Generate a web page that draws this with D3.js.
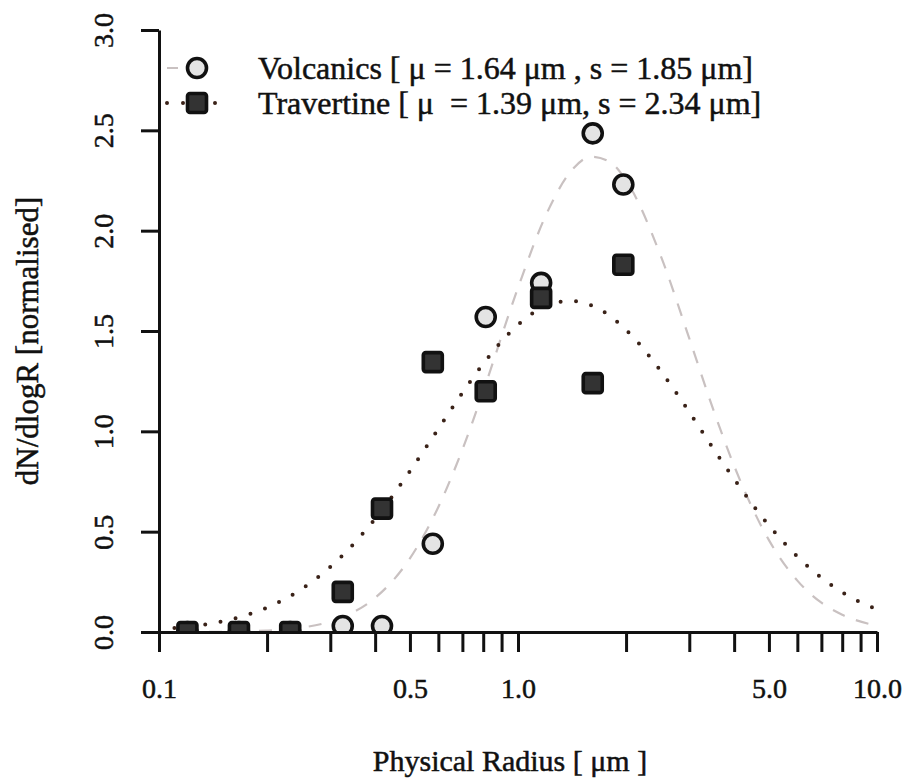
<!DOCTYPE html>
<html>
<head>
<meta charset="utf-8">
<script src="https://cdn.jsdelivr.net/npm/d3@7"></script>
<style>
  html, body { margin: 0; padding: 0; background: #ffffff; }
  svg { display: block; font-family: "Liberation Serif", "DejaVu Serif", serif; }
  svg text { stroke: #111111; stroke-width: 0.5px; }
</style>
</head>
<body>
<svg id="chart" width="909" height="781"></svg>
<script>
// ---------------- data ----------------
const radius = [0.120, 0.167, 0.232, 0.325, 0.418, 0.579, 0.813, 1.16, 1.615, 1.965];
const volcanics = [0, 0, 0, 0.03, 0.03, 0.44, 1.57, 1.74, 2.485, 2.23];
const travertine = [0, 0, 0, 0.20, 0.615, 1.345, 1.20, 1.665, 1.24, 1.83];

// fitted log-normal curves
const fitRadius = [0.1, 0.125, 0.15, 0.2, 0.25, 0.3, 0.35, 0.4, 0.5, 0.6, 0.7, 0.8, 1.0, 1.2, 1.4, 1.6, 1.8, 2.0, 2.5, 3, 3.5, 4, 5, 6, 7, 8, 10];
const volcanicsFit = [0.000, 0.000, 0.001, 0.007, 0.022, 0.052, 0.101, 0.170, 0.367, 0.623, 0.909, 1.199, 1.715, 2.083, 2.293, 2.368, 2.343, 2.250, 1.873, 1.463, 1.108, 0.828, 0.458, 0.256, 0.146, 0.086, 0.031];
const travertineFit = [0.014, 0.030, 0.053, 0.122, 0.215, 0.324, 0.443, 0.564, 0.801, 1.013, 1.192, 1.336, 1.531, 1.626, 1.650, 1.628, 1.576, 1.506, 1.300, 1.096, 0.914, 0.762, 0.531, 0.376, 0.271, 0.198, 0.112];

const xMajorTicks = [0.1, 0.5, 1, 5, 10];
const xTickLabels = ["0.1", "0.5", "1.0", "5.0", "10.0"];
const xMinorTicks = [0.2, 0.3, 0.4, 0.6, 0.7, 0.8, 0.9, 2, 3, 4, 6, 7, 8, 9];
const yTicks = [0, 0.5, 1, 1.5, 2, 2.5, 3];
const yTickLabels = ["0.0", "0.5", "1.0", "1.5", "2.0", "2.5", "3.0"];

const legendLabels = [
  "Volcanics [ \u03BC = 1.64 \u03BCm , s = 1.85 \u03BCm]",
  "Travertine [ \u03BC  = 1.39 \u03BCm, s = 2.34 \u03BCm]"
];
const xTitle = "Physical Radius [ \u03BCm ]";
const yTitle = "dN/dlogR [normalised]";

// ---------------- layout ----------------
const svg = d3.select("#chart");
const x = d3.scaleLog().domain([0.1, 10]).range([159, 877]);
const y = d3.scaleLinear().domain([0, 3]).range([632, 30]);

const ink = "#111111";

// clip to plotting region
svg.append("defs").append("clipPath").attr("id", "plotclip")
  .append("rect").attr("x", x(0.1)).attr("y", 0)
  .attr("width", x(10) - x(0.1)).attr("height", y(0));

const plot = svg.append("g").attr("clip-path", "url(#plotclip)");

const line = d3.line().x((d, i) => x(fitRadius[i])).y(d => y(d)).curve(d3.curveMonotoneX);

plot.append("path").datum(volcanicsFit)
  .attr("d", line).attr("fill", "none")
  .attr("stroke", "#c9c1c1").attr("stroke-width", 2.2)
  .attr("stroke-dasharray", "13 12");

plot.append("path").datum(travertineFit)
  .attr("d", line).attr("fill", "none")
  .attr("stroke", "#3a2218").attr("stroke-width", 4)
  .attr("stroke-linecap", "round")
  .attr("stroke-dasharray", "0 15.5");

// volcanics: open circles
plot.selectAll("circle.volc").data(volcanics).join("circle")
  .attr("class", "volc")
  .attr("cx", (d, i) => x(radius[i])).attr("cy", d => y(d))
  .attr("r", 9.5)
  .attr("fill", "#e4e4e4").attr("stroke", ink).attr("stroke-width", 3.6);

// travertine: filled squares
const sq = 19;
plot.selectAll("rect.trav").data(travertine).join("rect")
  .attr("class", "trav")
  .attr("x", (d, i) => x(radius[i]) - sq / 2).attr("y", d => y(d) - sq / 2)
  .attr("width", sq).attr("height", sq).attr("rx", 2.5)
  .attr("fill", "#333333").attr("stroke", ink).attr("stroke-width", 3.6);

// ---------------- axes ----------------
const xAxis = d3.axisBottom(x)
  .tickValues(xMajorTicks.concat(xMinorTicks))
  .tickSize(20).tickSizeOuter(0)
  .tickFormat(d => { const k = xMajorTicks.indexOf(d); return k >= 0 ? xTickLabels[k] : ""; });

const gx = svg.append("g").attr("transform", `translate(0,${y(0)})`).call(xAxis);
gx.select(".domain").attr("stroke", ink).attr("stroke-width", 3);
gx.selectAll(".tick line").attr("stroke", ink).attr("stroke-width", 3);
gx.selectAll(".tick text")
  .attr("fill", ink).attr("font-size", 28).attr("font-family", "Liberation Serif")
  .attr("y", 66).attr("dy", 0);

const yAxis = d3.axisLeft(y)
  .tickValues(yTicks).tickSize(18).tickSizeOuter(0)
  .tickFormat((d, i) => yTickLabels[i]);

const gy = svg.append("g").attr("transform", `translate(${x(0.1)},0)`).call(yAxis);
gy.select(".domain").attr("stroke", ink).attr("stroke-width", 3);
gy.selectAll(".tick line").attr("stroke", ink).attr("stroke-width", 3);
gy.selectAll(".tick text")
  .attr("fill", ink).attr("font-size", 28).attr("font-family", "Liberation Serif")
  .attr("x", null).attr("dy", 0)
  .attr("text-anchor", "middle")
  .attr("transform", "translate(-46,0) rotate(-90)");

// ---------------- axis titles ----------------
svg.append("text")
  .attr("x", 510).attr("y", 771)
  .attr("text-anchor", "middle").attr("font-size", 30).attr("fill", ink)
  .text(xTitle);

svg.append("text")
  .attr("transform", `translate(38,${341}) rotate(-90)`)
  .attr("text-anchor", "middle").attr("font-size", 31).attr("fill", ink)
  .text(yTitle);

// ---------------- legend ----------------
const lg = svg.append("g");
const rowY = [68, 103];

lg.append("line").attr("x1", 167).attr("x2", 212).attr("y1", rowY[0]).attr("y2", rowY[0])
  .attr("stroke", "#c9c1c1").attr("stroke-width", 2.2).attr("stroke-dasharray", "11 12");
lg.append("circle").attr("cx", 197).attr("cy", rowY[0]).attr("r", 9.5)
  .attr("fill", "#e4e4e4").attr("stroke", ink).attr("stroke-width", 3.6);

lg.append("line").attr("x1", 167).attr("x2", 230).attr("y1", rowY[1]).attr("y2", rowY[1])
  .attr("stroke", "#3a2218").attr("stroke-width", 4).attr("stroke-linecap", "round")
  .attr("stroke-dasharray", "0 16");
lg.append("rect").attr("x", 197 - sq / 2).attr("y", rowY[1] - sq / 2)
  .attr("width", sq).attr("height", sq).attr("rx", 2.5)
  .attr("fill", "#333333").attr("stroke", ink).attr("stroke-width", 3.6);

lg.selectAll("text.leg").data(legendLabels).join("text")
  .attr("class", "leg")
  .attr("x", 258).attr("y", (d, i) => rowY[i] + 11)
  .attr("font-size", 32).attr("fill", ink)
  .attr("xml:space", "preserve").style("white-space", "pre")
  .text(d => d);
</script>
</body>
</html>
